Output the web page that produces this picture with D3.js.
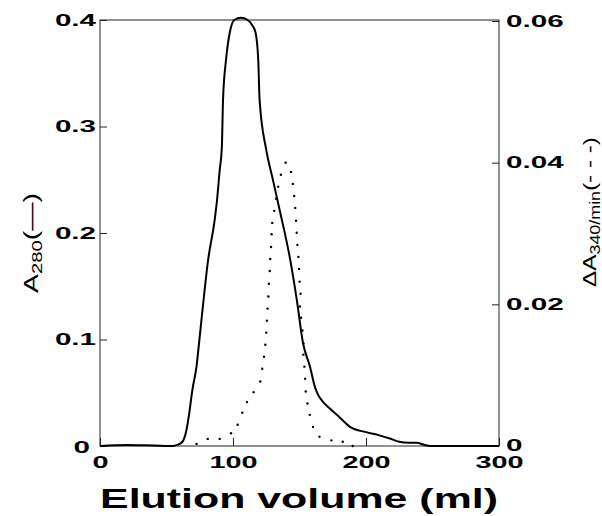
<!DOCTYPE html>
<html>
<head>
<meta charset="utf-8">
<script src="https://cdn.jsdelivr.net/npm/d3@7"></script>
<style>
  body { margin: 0; background: #fff; }
  svg { display: block; }
  .tick text { font-family: "Liberation Sans", Arial, sans-serif; font-weight: bold; font-size: 16px; fill: #000; }
  .domain { display: none; }
  .tick line { stroke: #222; stroke-width: 1; }
</style>
</head>
<body>
<div id="chart"></div>
<script>
// A280 (solid line): elution volume (ml) and absorbance
const volA280 = [0, 20, 40, 55, 58, 62, 65, 67, 69.5, 72.5, 75, 77.6, 81, 86.5, 88, 90, 91.6, 92.5, 94.7, 97.7, 101, 106, 111, 115, 117, 119, 120, 125, 130, 135, 143, 148, 152.6, 158, 161.7, 164, 168, 173, 180, 188, 200, 210, 218, 225, 232, 238, 244, 248, 300];
const a280 = [0, 0.001, 0.0005, 0, 0.001, 0.004, 0.015, 0.03, 0.053, 0.074, 0.103, 0.134, 0.172, 0.215, 0.231, 0.259, 0.28, 0.325, 0.362, 0.389, 0.4, 0.402, 0.4, 0.394, 0.388, 0.362, 0.325, 0.278, 0.25, 0.222, 0.175, 0.137, 0.097, 0.074, 0.055, 0.048, 0.041, 0.035, 0.027, 0.018, 0.013, 0.01, 0.007, 0.004, 0.003, 0.003, 0.001, 0, 0];

// delta A340/min (dotted): one dot per fraction
const volA340 = [72.6, 81, 90, 98.5, 103.5, 107, 110.5, 115.5, 120.5, 122, 123.3, 124.3, 125, 125.5, 126, 126.6, 127, 127.6, 128, 128.6, 129, 129.5, 131, 132.4, 134, 136, 139.6,
                 143.6, 145, 146, 146.8, 147.4, 147.9, 148.4, 149.2, 149.7, 150.1, 150.8, 150.3, 151.2, 152.2, 152.9, 152.9, 153.7, 154.2, 154.7, 156, 157.7, 160.2, 165, 174, 182.5, 190];
const dA340 = [0.0003, 0.001, 0.001, 0.0018, 0.003, 0.0047, 0.0062, 0.0076, 0.0091, 0.0109, 0.0126, 0.0143, 0.016, 0.0177, 0.0194, 0.0211, 0.0229, 0.0247, 0.0264, 0.0281, 0.0299, 0.0315, 0.0332, 0.0349, 0.0366, 0.0383, 0.04,
               0.0387, 0.037, 0.0353, 0.0336, 0.0318, 0.0301, 0.0284, 0.0267, 0.025, 0.0232, 0.0215, 0.0197, 0.0181, 0.0163, 0.0145, 0.0129, 0.0112, 0.0095, 0.0077, 0.006, 0.0044, 0.0027, 0.0013, 0.0008, 0.0006, 0];

const xTicks = [0, 100, 200, 300];
const yLeftTicks = [0, 0.1, 0.2, 0.3, 0.4];
const yRightTicks = [0, 0.02, 0.04, 0.06];

const width = 602, height = 516;
const plotLeft = 100, plotRight = 499, plotTop = 20, plotBottom = 446;

const svg = d3.select("#chart").append("svg")
    .attr("width", width)
    .attr("height", height);

const x = d3.scaleLinear().domain([0, 300]).range([plotLeft, plotRight]);
const yL = d3.scaleLinear().domain([0, 0.4]).range([plotBottom, plotTop]);
const yR = d3.scaleLinear().domain([0, 0.06]).range([plotBottom, plotTop + 1]);

const fmt = d => d === 0 ? "0" : String(d);

// stretch the bold labels sideways, the original face is very wide
function widen(sel, k) {
    sel.selectAll("text").each(function() {
        const t = d3.select(this);
        const x0 = +t.attr("x") || 0;
        t.attr("x", x0 / k).attr("transform", `scale(${k},1)`);
    });
}

const gL = svg.append("g").attr("transform", `translate(${plotLeft},0)`)
    .call(d3.axisLeft(yL).tickValues(yLeftTicks).tickSize(-7).tickPadding(4).tickFormat(fmt));
gL.selectAll(".tick").filter(d => d === 0).select("text").attr("x", -10).attr("dy", "0.4em");
widen(gL, 1.85);

const gR = svg.append("g").attr("transform", `translate(${plotRight},0)`)
    .call(d3.axisRight(yR).tickValues(yRightTicks).tickSize(-7).tickPadding(7).tickFormat(fmt));
gR.selectAll(".tick").filter(d => d === 0).select("text").attr("dy", "0.3em");
widen(gR, 1.85);

const gB = svg.append("g").attr("transform", `translate(0,${plotBottom})`)
    .call(d3.axisBottom(x).tickValues(xTicks).tickSize(-8).tickPadding(11).tickFormat(fmt));
widen(gB, 1.8);

// frame
svg.append("rect")
    .attr("x", plotLeft).attr("y", plotTop)
    .attr("width", plotRight - plotLeft).attr("height", plotBottom - plotTop)
    .attr("fill", "none").attr("stroke", "#222").attr("stroke-width", 1);

// A280 solid curve
const line = d3.line()
    .x((d, i) => x(volA280[i]))
    .y(d => yL(d))
    .curve(d3.curveMonotoneX);

svg.append("path")
    .datum(a280)
    .attr("d", line)
    .attr("fill", "none")
    .attr("stroke", "#000")
    .attr("stroke-width", 2);

// delta A340 dots
svg.append("g").selectAll("circle")
    .data(dA340)
    .enter()
    .append("circle")
    .attr("cx", (d, i) => x(volA340[i]))
    .attr("cy", d => yR(d))
    .attr("r", 1.2)
    .attr("fill", "#000");

// axis titles
const title = svg.append("text")
    .attr("text-anchor", "middle")
    .attr("fill", "#000")
    .style("font-family", "'Liberation Sans', Arial, sans-serif")
    .style("font-weight", "bold")
    .style("font-size", "28px")
    .text("Elution volume (ml)");
const tw = title.node().getComputedTextLength();
title.attr("transform", `translate(299,508) scale(${398 / tw},1)`);

const yLab = svg.append("text")
    .attr("text-anchor", "middle")
    .attr("fill", "#000")
    .style("font-family", "'Liberation Sans', Arial, sans-serif")
    .style("font-size", "21px");
yLab.append("tspan").text("A");
yLab.append("tspan").attr("dy", 4).style("font-size", "15px").text("280");
yLab.append("tspan").attr("dy", -4).text("(\u2014)");
const lw = yLab.node().getComputedTextLength();
yLab.attr("transform", `translate(38,243) rotate(-90) scale(${100 / lw},1)`);

const yRLab = svg.append("text")
    .attr("text-anchor", "middle")
    .attr("fill", "#000")
    .style("font-family", "'Liberation Sans', Arial, sans-serif")
    .style("font-size", "19px");
yRLab.append("tspan").text("\u0394A");
yRLab.append("tspan").attr("dy", 4).style("font-size", "14px").text("340/min");
yRLab.append("tspan").attr("dy", -4).text("(- - -)");
const rw = yRLab.node().getComputedTextLength();
yRLab.attr("transform", `translate(596,212) rotate(-90) scale(${150 / rw},1)`);
</script>
</body>
</html>
